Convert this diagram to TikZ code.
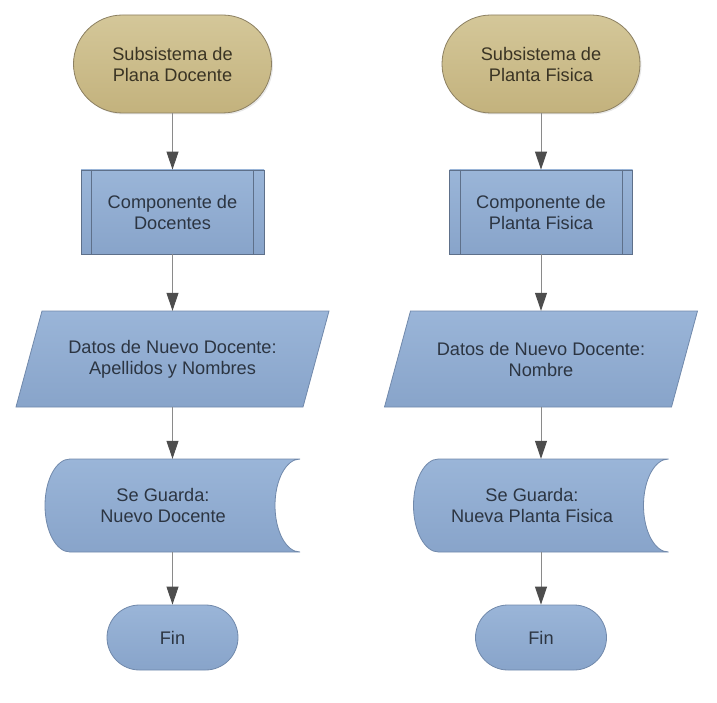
\documentclass[tikz,border=0pt]{standalone}
\usepackage{fontspec}
\setmainfont{Liberation Sans}
\usetikzlibrary{shapes.misc,arrows.meta,backgrounds,shadows}
\definecolor{tantop}{HTML}{D4C799}
\definecolor{tanbot}{HTML}{C3B27D}
\definecolor{tanline}{HTML}{8C8062}
\definecolor{tantext}{HTML}{3A3424}
\definecolor{bluetop}{HTML}{9AB5D8}
\definecolor{bluebot}{HTML}{88A4CA}
\definecolor{blueline}{HTML}{7189AB}
\definecolor{boxline}{HTML}{5E708A}
\definecolor{bluetext}{HTML}{2C3542}
\definecolor{connc}{HTML}{8A8A8A}
\definecolor{tipc}{HTML}{4D4D4D}
\tikzset{
  txt/.style={font=\fontsize{18.2}{21}\selectfont, align=center, inner sep=0pt},
  term/.style={txt, rounded rectangle, draw=tanline, line width=0.8pt,
    top color=tantop, bottom color=tanbot, text=tantext,
    minimum width=198pt, minimum height=98pt,
    drop shadow={opacity=0.18, shadow xshift=1.5pt, shadow yshift=-1.5pt}},
  finbox/.style={txt, rounded rectangle, draw=blueline, line width=0.8pt,
    top color=bluetop, bottom color=bluebot, text=bluetext,
    minimum width=131pt, minimum height=65pt},
  predef/.style={txt, rectangle, draw=boxline, line width=0.8pt,
    top color=bluetop, bottom color=bluebot, text=bluetext,
    minimum width=183pt, minimum height=84pt},
  iobox/.style={txt, rectangle, text=bluetext, minimum width=287pt, minimum height=96pt},
  storebox/.style={rectangle, inner sep=0pt, minimum width=255pt, minimum height=93pt},
  bluefill/.style={draw=blueline, line width=0.8pt, top color=bluetop, bottom color=bluebot},
  label/.style={txt, text=bluetext},
  conn/.style={draw=connc, line width=1pt, -{Triangle[length=18pt,width=12pt,color=tipc]}}
}
\begin{document}
\begin{tikzpicture}[x=1pt,y=-1pt]
\useasboundingbox (0,0) rectangle (717,703);

% ---------- left column ----------
\node[term] (t1) at (172.5,64) {Subsistema de\\Plana Docente};
\node[predef] (c1) at (172.5,212) {Componente de\\Docentes};
\node[iobox] (p1) at (172.5,359) {Datos de Nuevo Docente:\\Apellidos y Nombres};
\node[storebox] (s1) at (172.5,505.5) {};
\node[label] (s1t) at (163,505.5) {Se Guarda:\\Nuevo Docente};
\node[finbox] (f1) at (172.5,637.5) {Fin};

% ---------- right column ----------
\node[term] (t2) at (541,64) {Subsistema de\\Planta Fisica};
\node[predef] (c2) at (541,212) {Componente de\\Planta Fisica};
\node[iobox] (p2) at (541,359) {Datos de Nuevo Docente:\\Nombre};
\node[storebox] (s2) at (541,505.5) {};
\node[label] (s2t) at (532,505.5) {Se Guarda:\\Nueva Planta Fisica};
\node[finbox] (f2) at (541,637.5) {Fin};

% inner bars of the predefined-process boxes
\foreach \c in {c1,c2}{
  \draw[boxline, line width=0.8pt] ([xshift=11pt]\c.north west) -- ([xshift=11pt]\c.south west);
  \draw[boxline, line width=0.8pt] ([xshift=-11pt]\c.north east) -- ([xshift=-11pt]\c.south east);
}

\begin{pgfonlayer}{background}
\foreach \p in {p1,p2}{
  \begin{scope}[shift={(\p.center)}]
    \path[bluefill] (-156.5,48) -- (130.5,48) -- (156.5,-48) -- (-130.5,-48) -- cycle;
  \end{scope}
}
\foreach \s in {s1,s2}{
  \begin{scope}[shift={(\s.center)}]
    \path[bluefill] (-102.5,-46.5)
      .. controls (-116.3,-46.5) and (-127.5,-25.7) .. (-127.5,0)
      .. controls (-127.5,25.7) and (-116.3,46.5) .. (-102.5,46.5)
      -- (127.5,46.5)
      .. controls (113.7,46.5) and (102.5,25.7) .. (102.5,0)
      .. controls (102.5,-25.7) and (113.7,-46.5) .. (127.5,-46.5)
      -- cycle;
  \end{scope}
}
\end{pgfonlayer}

% ---------- connectors ----------
\draw[conn] (t1.south) -- (c1.north);
\draw[conn] (c1.south) -- (p1.north);
\draw[conn] (p1.south) -- (s1.north);
\draw[conn] (s1.south) -- (f1.north);
\draw[conn] (t2.south) -- (c2.north);
\draw[conn] (c2.south) -- (p2.north);
\draw[conn] (p2.south) -- (s2.north);
\draw[conn] (s2.south) -- (f2.north);
\end{tikzpicture}
\end{document}
